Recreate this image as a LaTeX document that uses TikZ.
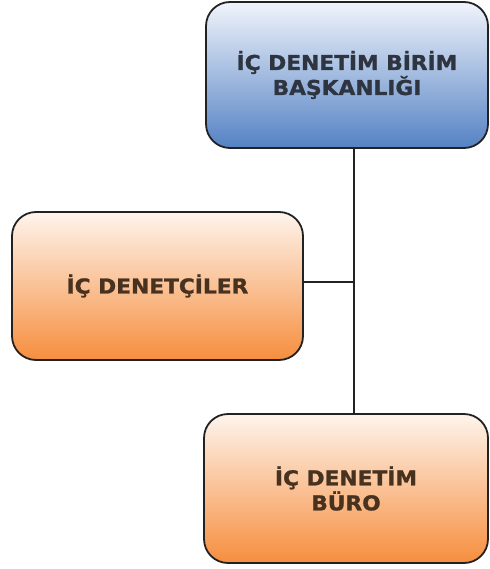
\documentclass[tikz,border=0pt]{standalone}
\usepackage{fontspec}
\newfontfamily\boxfont[FakeStretch=1.06,FakeBold=1.2]{DejaVu Sans}
\definecolor{bluetop}{HTML}{F0F4FB}
\definecolor{bluemid}{HTML}{A5BDE2}
\definecolor{bluebot}{HTML}{5482C4}
\definecolor{orgtop}{HTML}{FEF4EC}
\definecolor{orgmid}{HTML}{FBC79E}
\definecolor{orgbot}{HTML}{F68E3E}
\definecolor{edgec}{HTML}{222222}
\definecolor{bluetext}{HTML}{2E3440}
\definecolor{orgtext}{HTML}{47311F}
\tikzset{
  unitbox/.style={draw=edgec, line width=1.8pt, rounded corners=24pt,
    align=center, inner sep=0pt,
    font=\boxfont\bfseries\fontsize{20.5}{25}\selectfont},
  bluebox/.style={unitbox, top color=bluetop, middle color=bluemid, bottom color=bluebot, text=bluetext},
  orangebox/.style={unitbox, top color=orgtop, middle color=orgmid, bottom color=orgbot, text=orgtext},
  link/.style={draw=edgec, line width=1.8pt}
}
\begin{document}
\begin{tikzpicture}[x=1pt,y=-1pt]
\useasboundingbox (0,0) rectangle (489,569);
\node[bluebox, minimum width=282pt, minimum height=146pt] (top) at (347,75)
  {İÇ DENETİM BİRİM\\BAŞKANLIĞI};
\node[orangebox, minimum width=291pt, minimum height=148pt] (left) at (157.5,286)
  {İÇ DENETÇİLER};
\node[orangebox, minimum width=284pt, minimum height=149pt] (bot) at (346,488.5)
  {İÇ DENETİM\\BÜRO};
\coordinate (j) at (354,282);
\draw[link] (top.south -| j) -- (bot.north -| j);
\draw[link] (left.east |- j) -- (j);
\end{tikzpicture}
\end{document}
